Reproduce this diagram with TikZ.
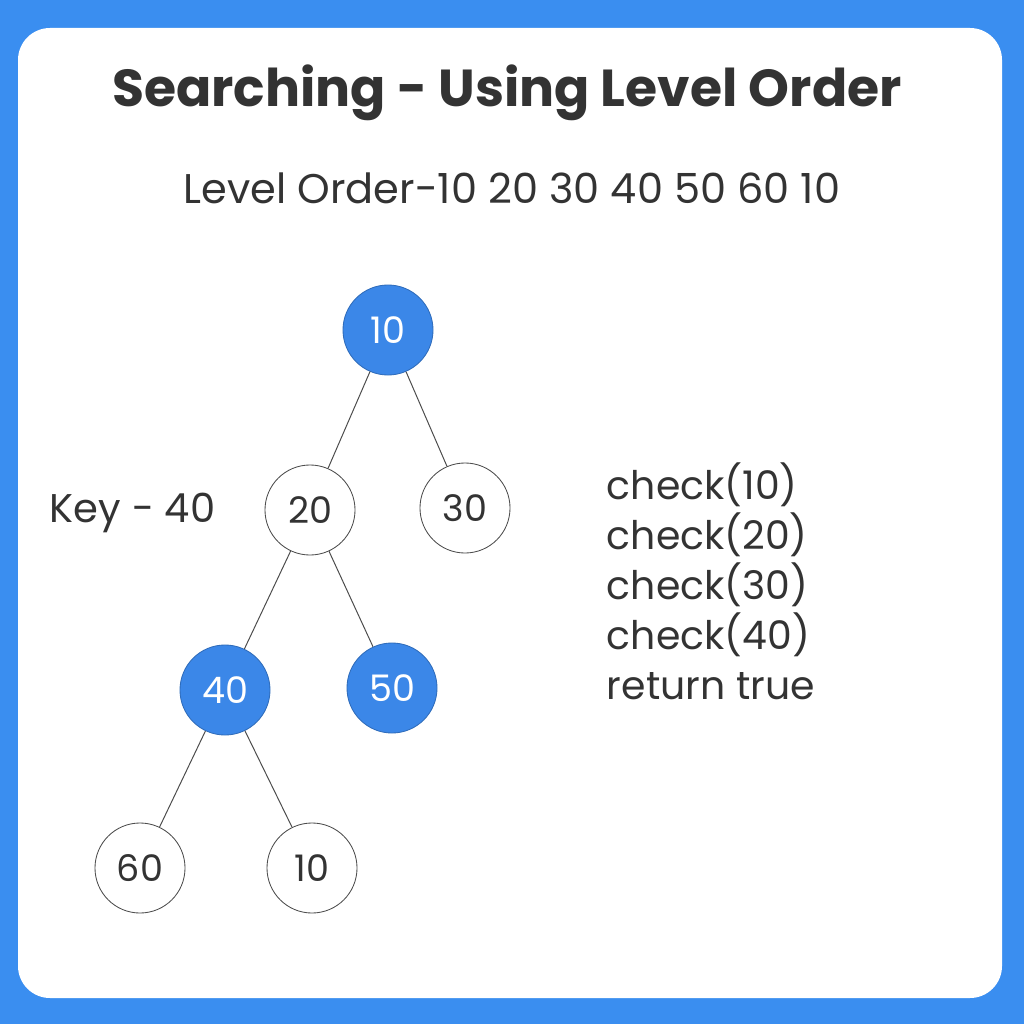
\documentclass[tikz,border=0pt]{standalone}
\usepackage{fontspec}
\setmainfont{Poppins}
\definecolor{bluebg}{HTML}{3A8EF0}
\definecolor{nodeblue}{HTML}{3B87E8}
\definecolor{txt}{HTML}{333333}
\begin{document}
\begin{tikzpicture}[x=0.025cm,y=-0.025cm,
  tn/.style={circle,draw=black!70,line width=0.6pt,minimum size=2.25cm,inner sep=0pt,font=\fontsize{26}{30}\selectfont,text=txt},
  bn/.style={tn,fill=nodeblue,draw=nodeblue!80!black,text=white},
  edge/.style={draw=black!70,line width=0.7pt},
  lbl/.style={font=\fontsize{28}{33}\selectfont,text=txt}]
\useasboundingbox (0,0) rectangle (1024,1024);
\fill[bluebg] (0,0) rectangle (1024,1024);
\fill[white,rounded corners=0.8cm] (18,28) rectangle (1002,998);
\node[font=\fontsize{37}{44}\selectfont\bfseries,text=txt] (title) at (507,93) {Searching - Using Level Order};
\node[lbl,font=\fontsize{29.5}{34}\selectfont] (lo) at (512,188) {Level Order-10 20 30 40 50 60 10};
\node[bn] (a) at (388,330) {10};
\node[tn] (b) at (310,510) {20};
\node[tn] (c) at (465,508) {30};
\node[bn] (d) at (225,690) {40};
\node[bn] (e) at (392,688) {50};
\node[tn] (f) at (140,868) {60};
\node[tn] (g) at (312,868) {10};
\draw[edge] (a)--(b); \draw[edge] (a)--(c);
\draw[edge] (b)--(d); \draw[edge] (b)--(e);
\draw[edge] (d)--(f); \draw[edge] (d)--(g);
\node[lbl,anchor=west,font=\fontsize{28.5}{33}\selectfont] (key) at (45,513) {Key - 40};
\node[lbl,anchor=north west,align=left,font=\fontsize{28}{35.5}\selectfont] (chk) at (602,458) {check(10)\\check(20)\\check(30)\\check(40)\\return true};
\end{tikzpicture}
\end{document}
